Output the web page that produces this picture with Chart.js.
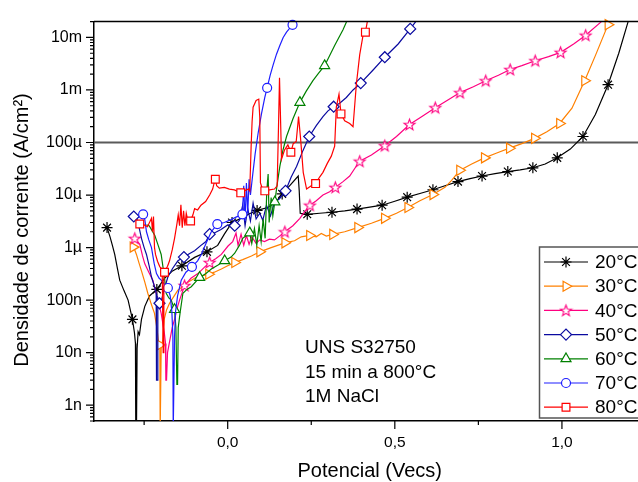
<!DOCTYPE html>
<html>
<head>
<meta charset="utf-8">
<title>Polarização potenciodinâmica</title>
<script src="https://cdn.jsdelivr.net/npm/chart.js@4.4.1/dist/chart.umd.min.js"></script>
<style>
  html, body { margin: 0; padding: 0; background: #fff; overflow: hidden; }
  #wrap { width: 638px; height: 482px; overflow: hidden; }
  canvas { display: block; }
</style>
</head>
<body>
<div id="wrap"><canvas id="polar" width="660" height="482"></canvas></div>
<script>
// Potential (V vs ECS), current density (A/cm²)
const seriesLabels = ['20°C', '30°C', '40°C', '50°C', '60°C', '70°C', '80°C'];

const curve20 = [[-0.361, 2.4e-6], [-0.352, 1.6e-6], [-0.345, 1.1e-6], [-0.338, 7.4e-7], [-0.330, 4e-7], [-0.323, 2.4e-7], [-0.310, 1.5e-7], [-0.298, 1.0e-7], [-0.285, 4.3e-8], [-0.279, 2.4e-8], [-0.276, 1.5e-8], [-0.275, 3e-10], [-0.273, 3e-10], [-0.271, 1.2e-8], [-0.268, 2.5e-8], [-0.264, 2.2e-8], [-0.258, 4.3e-8], [-0.248, 7.6e-8], [-0.234, 1.2e-7], [-0.212, 1.6e-7], [-0.189, 2.6e-7], [-0.165, 3.6e-7], [-0.137, 4.5e-7], [-0.099, 6.5e-7], [-0.062, 8.3e-7], [-0.030, 1.1e-6], [-0.010, 1.8e-6], [0.013, 3.0e-6], [0.040, 3.6e-6], [0.065, 4.4e-6], [0.088, 5.1e-6], [0.120, 5.8e-6], [0.145, 7.5e-6], [0.163, 1.05e-5], [0.185, 1.5e-5], [0.211, 2.3e-5], [0.214, 1.2e-5], [0.217, 4.5e-6], [0.238, 4.3e-6], [0.275, 4.5e-6], [0.312, 4.7e-6], [0.350, 5e-6], [0.387, 5.4e-6], [0.425, 5.9e-6], [0.462, 6.4e-6], [0.500, 7.6e-6], [0.537, 9.1e-6], [0.575, 1.07e-5], [0.614, 1.26e-5], [0.650, 1.5e-5], [0.689, 1.8e-5], [0.725, 2.05e-5], [0.761, 2.3e-5], [0.800, 2.55e-5], [0.838, 2.8e-5], [0.875, 3e-5], [0.913, 3.3e-5], [0.950, 3.9e-5], [0.986, 5.1e-5], [1.025, 7.5e-5], [1.063, 1.3e-4], [1.100, 3.4e-4], [1.138, 1.26e-3], [1.170, 5e-3], [1.198, 2e-2], [1.210, 3.5e-2]];
const marks20 = [[-0.361, 2.4e-6], [-0.285, 4.3e-8], [-0.212, 1.6e-7], [-0.137, 4.5e-7], [-0.062, 8.3e-7], [0.013, 3.0e-6], [0.088, 5.1e-6], [0.163, 1.05e-5], [0.238, 4.3e-6], [0.312, 4.7e-6], [0.387, 5.4e-6], [0.462, 6.4e-6], [0.537, 9.1e-6], [0.614, 1.26e-5], [0.689, 1.8e-5], [0.761, 2.3e-5], [0.838, 2.8e-5], [0.913, 3.3e-5], [0.986, 5.1e-5], [1.063, 1.3e-4], [1.138, 1.26e-3]];

const curve30 = [[-0.283, 1.02e-6], [-0.278, 9e-7], [-0.273, 7.4e-7], [-0.265, 5e-7], [-0.258, 3.6e-7], [-0.248, 2.2e-7], [-0.239, 1.35e-7], [-0.229, 8.5e-8], [-0.219, 5.6e-8], [-0.212, 3e-8], [-0.207, 1.6e-8], [-0.203, 1.4e-8], [-0.202, 3e-10], [-0.200, 3e-10], [-0.199, 1.2e-8], [-0.194, 1.8e-8], [-0.190, 4.3e-8], [-0.183, 6.5e-8], [-0.174, 8.7e-8], [-0.160, 1.2e-7], [-0.149, 1.55e-7], [-0.130, 1.9e-7], [-0.119, 2.2e-7], [-0.095, 2.7e-7], [-0.057, 3.1e-7], [-0.040, 3.4e-7], [-0.019, 3.9e-7], [0.000, 4.5e-7], [0.021, 5.2e-7], [0.045, 5.9e-7], [0.071, 6.9e-7], [0.096, 8.3e-7], [0.130, 1.0e-6], [0.171, 1.23e-6], [0.200, 1.35e-6], [0.220, 1.6e-6], [0.245, 1.7e-6], [0.265, 1.6e-6], [0.280, 1.85e-6], [0.295, 1.65e-6], [0.314, 1.78e-6], [0.350, 2.0e-6], [0.389, 2.4e-6], [0.430, 2.9e-6], [0.469, 3.6e-6], [0.505, 4.5e-6], [0.539, 5.8e-6], [0.575, 7.8e-6], [0.614, 1.02e-5], [0.650, 1.4e-5], [0.670, 1.9e-5], [0.694, 2.95e-5], [0.730, 3.9e-5], [0.768, 5.1e-5], [0.805, 6.3e-5], [0.843, 7.8e-5], [0.880, 9.5e-5], [0.918, 1.2e-4], [0.955, 1.6e-4], [0.993, 2.3e-4], [1.030, 4.5e-4], [1.068, 1.5e-3], [1.100, 4.5e-3], [1.138, 1.75e-2], [1.150, 3e-2]];
const marks30 = [[-0.283, 1.02e-6], [-0.203, 1.4e-8], [-0.057, 3.1e-7], [0.021, 5.2e-7], [0.096, 8.3e-7], [0.171, 1.23e-6], [0.245, 1.7e-6], [0.314, 1.78e-6], [0.389, 2.4e-6], [0.469, 3.6e-6], [0.539, 5.8e-6], [0.614, 1.02e-5], [0.694, 2.95e-5], [0.768, 5.1e-5], [0.843, 7.8e-5], [0.918, 1.2e-4], [0.993, 2.3e-4], [1.068, 1.5e-3], [1.138, 1.75e-2]];

const curve40 = [[-0.278, 1.5e-6], [-0.270, 1.3e-6], [-0.263, 1.15e-6], [-0.255, 7e-7], [-0.248, 4.9e-7], [-0.236, 3.4e-7], [-0.224, 2.4e-7], [-0.212, 1.2e-7], [-0.199, 5.6e-8], [-0.190, 2.5e-8], [-0.186, 1.5e-8], [-0.185, 3e-9], [-0.183, 3e-9], [-0.180, 1e-8], [-0.174, 1.6e-8], [-0.166, 3e-8], [-0.159, 4.3e-8], [-0.150, 7.5e-8], [-0.144, 1e-7], [-0.129, 1.9e-7], [-0.110, 2.6e-7], [-0.089, 3.2e-7], [-0.070, 4.2e-7], [-0.054, 5.2e-7], [-0.035, 6.2e-7], [-0.019, 7.4e-7], [0.001, 1.07e-6], [0.015, 1.3e-6], [0.025, 1.9e-6], [0.031, 1.1e-6], [0.040, 1.8e-6], [0.048, 1.1e-6], [0.056, 1.7e-6], [0.064, 1.15e-6], [0.072, 1.6e-6], [0.085, 1.2e-6], [0.096, 1.4e-6], [0.110, 1.3e-6], [0.125, 1.45e-6], [0.140, 1.4e-6], [0.155, 1.65e-6], [0.171, 2.0e-6], [0.195, 2.6e-6], [0.216, 3.6e-6], [0.230, 4.8e-6], [0.246, 6.4e-6], [0.265, 7.8e-6], [0.285, 1.0e-5], [0.305, 1.15e-5], [0.322, 1.4e-5], [0.345, 1.8e-5], [0.365, 2.3e-5], [0.380, 3.2e-5], [0.395, 4.4e-5], [0.430, 5.8e-5], [0.470, 8.7e-5], [0.505, 1.3e-4], [0.544, 2.2e-4], [0.580, 3.1e-4], [0.621, 4.6e-4], [0.660, 6.5e-4], [0.695, 8.9e-4], [0.735, 1.15e-3], [0.772, 1.5e-3], [0.810, 1.9e-3], [0.845, 2.45e-3], [0.880, 2.9e-3], [0.920, 3.6e-3], [0.960, 4.3e-3], [0.996, 5.2e-3], [1.035, 7.5e-3], [1.071, 1.1e-2], [1.118, 2e-2], [1.130, 2.4e-2]];
const marks40 = [[-0.278, 1.5e-6], [-0.129, 1.9e-7], [-0.054, 5.2e-7], [0.171, 2.0e-6], [0.246, 6.4e-6], [0.322, 1.4e-5], [0.395, 4.4e-5], [0.470, 8.7e-5], [0.544, 2.2e-4], [0.621, 4.6e-4], [0.695, 8.9e-4], [0.772, 1.5e-3], [0.845, 2.45e-3], [0.920, 3.6e-3], [0.996, 5.2e-3], [1.071, 1.1e-2]];

const curve50 = [[-0.281, 3.9e-6], [-0.272, 3.6e-6], [-0.265, 2.4e-6], [-0.258, 1.5e-6], [-0.250, 1.0e-6], [-0.243, 7.4e-7], [-0.235, 4.5e-7], [-0.228, 2.75e-7], [-0.220, 1.9e-7], [-0.214, 1.35e-7], [-0.213, 3e-9], [-0.211, 3e-9], [-0.209, 1.1e-7], [-0.204, 8.7e-8], [-0.198, 1.0e-7], [-0.190, 1.6e-7], [-0.179, 2.75e-7], [-0.165, 4e-7], [-0.149, 5.6e-7], [-0.131, 6.6e-7], [-0.115, 7.6e-7], [-0.099, 8.7e-7], [-0.080, 1.1e-6], [-0.065, 1.3e-6], [-0.054, 1.8e-6], [-0.040, 1.9e-6], [-0.020, 2.2e-6], [0.000, 2.7e-6], [0.021, 2.6e-6], [0.035, 3.3e-6], [0.045, 6.5e-6], [0.052, 2.6e-6], [0.060, 5.5e-6], [0.068, 3.2e-6], [0.076, 7e-6], [0.085, 3.5e-6], [0.096, 4.5e-6], [0.105, 3.3e-6], [0.116, 6.4e-6], [0.128, 4.0e-6], [0.140, 7.2e-6], [0.155, 8.5e-6], [0.173, 1.2e-5], [0.190, 2.2e-5], [0.206, 3.5e-5], [0.225, 7e-5], [0.244, 1.3e-4], [0.265, 2.1e-4], [0.285, 3.1e-4], [0.300, 4e-4], [0.317, 4.8e-4], [0.335, 5.6e-4], [0.355, 7.2e-4], [0.375, 1.0e-3], [0.398, 1.35e-3], [0.435, 2.4e-3], [0.470, 4.2e-3], [0.510, 7.5e-3], [0.546, 1.45e-2], [0.570, 2.3e-2]];
const marks50 = [[-0.281, 3.9e-6], [-0.204, 8.7e-8], [-0.131, 6.6e-7], [-0.054, 1.8e-6], [0.021, 2.6e-6], [0.173, 1.2e-5], [0.244, 1.3e-4], [0.317, 4.8e-4], [0.398, 1.35e-3], [0.470, 4.2e-3], [0.546, 1.45e-2]];

const curve60 = [[-0.243, 2.7e-6], [-0.235, 2.6e-6], [-0.228, 2.2e-6], [-0.218, 1.7e-6], [-0.209, 1.15e-6], [-0.199, 7.4e-7], [-0.193, 4e-7], [-0.190, 3e-7], [-0.184, 1.35e-7], [-0.176, 1.1e-7], [-0.169, 1.0e-7], [-0.159, 6.6e-8], [-0.155, 3e-8], [-0.152, 2.5e-9], [-0.150, 2.5e-9], [-0.148, 3e-8], [-0.142, 6e-8], [-0.134, 1.35e-7], [-0.122, 1.6e-7], [-0.109, 1.8e-7], [-0.084, 2.7e-7], [-0.065, 3.2e-7], [-0.049, 3.9e-7], [-0.030, 4.6e-7], [-0.009, 5.6e-7], [0.010, 6.6e-7], [0.021, 7.8e-7], [0.035, 1.1e-6], [0.045, 1.5e-6], [0.066, 1.9e-6], [0.072, 1.2e-6], [0.080, 2.3e-6], [0.087, 1.1e-6], [0.094, 2.6e-6], [0.100, 1.3e-6], [0.106, 3.5e-6], [0.112, 1.5e-6], [0.117, 1.2e-5], [0.121, 2.5e-5], [0.124, 3e-6], [0.130, 9e-6], [0.135, 4e-6], [0.141, 7.4e-6], [0.148, 1.6e-5], [0.156, 3.5e-5], [0.165, 7e-5], [0.176, 1.3e-4], [0.195, 2.8e-4], [0.216, 5.8e-4], [0.235, 9.5e-4], [0.255, 1.5e-3], [0.272, 2.1e-3], [0.290, 2.9e-3], [0.320, 7e-3], [0.345, 1.4e-2], [0.360, 2.3e-2]];
const marks60 = [[-0.159, 6.6e-8], [-0.084, 2.7e-7], [-0.009, 5.6e-7], [0.066, 1.9e-6], [0.141, 7.4e-6], [0.216, 5.8e-4], [0.290, 2.9e-3]];

const curve70 = [[-0.253, 4.3e-6], [-0.248, 3.4e-6], [-0.243, 2.0e-6], [-0.236, 1.4e-6], [-0.228, 1.0e-6], [-0.220, 5e-7], [-0.213, 3.2e-7], [-0.205, 2.6e-7], [-0.199, 2.4e-7], [-0.189, 2.0e-7], [-0.179, 1.7e-7], [-0.172, 1.2e-7], [-0.167, 6e-8], [-0.164, 2e-8], [-0.163, 3e-10], [-0.161, 3e-10], [-0.159, 2e-8], [-0.156, 6e-8], [-0.150, 1.2e-7], [-0.139, 2.4e-7], [-0.125, 3.4e-7], [-0.107, 4.3e-7], [-0.090, 5.6e-7], [-0.079, 7.4e-7], [-0.065, 1.2e-6], [-0.049, 2.0e-6], [-0.031, 2.8e-6], [-0.010, 3.0e-6], [0.010, 3.4e-6], [0.025, 3.8e-6], [0.044, 4.3e-6], [0.048, 1.5e-5], [0.052, 3.2e-6], [0.056, 1.7e-5], [0.060, 4.5e-6], [0.064, 2e-5], [0.068, 1.0e-5], [0.075, 2.5e-5], [0.082, 6e-5], [0.091, 1.5e-4], [0.101, 3.5e-4], [0.111, 7.2e-4], [0.118, 1.1e-3], [0.127, 1.9e-3], [0.136, 3e-3], [0.146, 4.8e-3], [0.156, 7e-3], [0.166, 1e-2], [0.176, 1.26e-2], [0.194, 1.74e-2], [0.210, 2.6e-2]];
const marks70 = [[-0.253, 4.3e-6], [-0.179, 1.7e-7], [-0.107, 4.3e-7], [-0.031, 2.8e-6], [0.044, 4.3e-6], [0.118, 1.1e-3], [0.194, 1.74e-2]];

const curve80 = [[-0.263, 2.8e-6], [-0.250, 2.7e-6], [-0.240, 2.5e-6], [-0.228, 3.6e-6], [-0.225, 2.0e-6], [-0.222, 3.9e-6], [-0.219, 1.0e-6], [-0.216, 7.4e-7], [-0.210, 5.5e-7], [-0.203, 4.3e-7], [-0.196, 3.9e-7], [-0.193, 1e-8], [-0.191, 3e-7], [-0.189, 3.4e-7], [-0.180, 4.4e-7], [-0.174, 5.6e-7], [-0.166, 9e-7], [-0.159, 1.5e-6], [-0.152, 2.8e-6], [-0.148, 4.2e-6], [-0.144, 2.6e-6], [-0.140, 6.5e-6], [-0.136, 2.4e-6], [-0.132, 5e-6], [-0.128, 2.6e-6], [-0.124, 4.5e-6], [-0.118, 3e-6], [-0.111, 3.2e-6], [-0.104, 4.2e-6], [-0.099, 5.5e-6], [-0.090, 5.2e-6], [-0.080, 6.4e-6], [-0.066, 7.5e-6], [-0.054, 1.0e-5], [-0.045, 1.3e-5], [-0.039, 1.86e-5], [-0.037, 2.0e-5], [-0.033, 1.5e-5], [-0.025, 1.35e-5], [-0.010, 1.4e-5], [0.005, 1.3e-5], [0.020, 1.25e-5], [0.039, 1.1e-5], [0.050, 1.2e-5], [0.062, 1.3e-5], [0.066, 1.2e-5], [0.070, 8e-5], [0.073, 2.5e-4], [0.076, 4.7e-4], [0.085, 6.3e-4], [0.093, 6.7e-4], [0.096, 3e-4], [0.098, 1.7e-5], [0.104, 1.3e-5], [0.111, 1.2e-5], [0.125, 1.25e-5], [0.140, 1.3e-5], [0.148, 1.5e-5], [0.152, 2e-4], [0.155, 1.7e-3], [0.158, 3e-4], [0.161, 4.8e-5], [0.170, 7.2e-5], [0.180, 9e-5], [0.189, 6.5e-5], [0.196, 9.5e-5], [0.205, 1.05e-4], [0.212, 3.1e-4], [0.218, 1.2e-4], [0.226, 2.7e-5], [0.236, 1.3e-5], [0.250, 1.5e-5], [0.263, 1.65e-5], [0.275, 2.2e-5], [0.285, 2.7e-5], [0.298, 4e-5], [0.310, 5.5e-5], [0.320, 8.5e-5], [0.325, 4.7e-4], [0.333, 8.3e-4], [0.339, 3.5e-4], [0.350, 2.6e-4], [0.365, 2.3e-4], [0.375, 2e-4], [0.385, 1.3e-3], [0.395, 4.7e-3], [0.405, 1.1e-2], [0.412, 1.26e-2], [0.420, 2.4e-2]];
const marks80 = [[-0.263, 2.8e-6], [-0.189, 3.4e-7], [-0.111, 3.2e-6], [-0.037, 2.0e-5], [0.039, 1.1e-5], [0.111, 1.2e-5], [0.189, 6.5e-5], [0.263, 1.65e-5], [0.339, 3.5e-4], [0.412, 1.26e-2]];

const xTickValues = [0, 0.5, 1.0];
const xTickLabels = ['0,0', '0,5', '1,0'];
const yTickValues = [1e-9, 1e-8, 1e-7, 1e-6, 1e-5, 1e-4, 1e-3, 1e-2];
const yTickLabels = ['1n', '10n', '100n', '1µ', '10µ', '100µ', '1m', '10m'];
const refLevel = 1e-4;
const noteLines = ['UNS S32750', '15 min a 800°C', '1M NaCl'];

const X_MIN = -0.4, X_MAX = 1.25;
const Y_MIN = 5e-10, Y_MAX = 2e-2;
const FONT = 'Arial, "Liberation Sans", sans-serif';

// hollow five-point star used as a point style
function starImage(color) {
    const c = document.createElement('canvas');
    c.width = c.height = 15;
    const g = c.getContext('2d');
    g.beginPath();
    for (let i = 0; i < 10; i++) {
        const r = i % 2 ? 2.4 : 5.8;
        const a = -Math.PI / 2 + i * Math.PI / 5;
        const px = 7.5 + r * Math.cos(a);
        const py = 8 + r * Math.sin(a);
        if (i) g.lineTo(px, py); else g.moveTo(px, py);
    }
    g.closePath();
    g.fillStyle = '#fff';
    g.fill();
    g.strokeStyle = color;
    g.lineWidth = 1.1;
    g.stroke();
    return c;
}

const curves = [curve20, curve30, curve40, curve50, curve60, curve70, curve80];
const marks = [marks20, marks30, marks40, marks50, marks60, marks70, marks80];
const styles = [
    { color: '#000000', point: 'star', radius: 5.5, rotation: 0 },
    { color: '#FF8000', point: 'triangle', radius: 5.8, rotation: 90 },
    { color: '#FF0080', point: starImage('#FF0080'), radius: 5, rotation: 0 },
    { color: '#0A0AA0', point: 'rectRot', radius: 5.5, rotation: 0 },
    { color: '#008000', point: 'triangle', radius: 5.8, rotation: 0 },
    { color: '#1E1EFF', point: 'circle', radius: 4.5, rotation: 0 },
    { color: '#FF0000', point: 'rect', radius: 5.5, rotation: 0 }
];

const toXY = arr => arr.map(p => ({ x: p[0], y: p[1] }));

const datasets = [];
curves.forEach((c, k) => {
    const s = styles[k];
    // symbols sit above their own curve, later temperatures above earlier ones
    datasets.push({
        label: seriesLabels[k],
        data: toXY(marks[k]),
        showLine: false,
        pointStyle: s.point,
        pointRadius: s.radius,
        pointRotation: s.rotation,
        pointBorderColor: s.color,
        pointBackgroundColor: '#ffffff',
        pointBorderWidth: 1.2,
        order: (6 - k) * 2,
        clip: 8
    });
    datasets.push({
        label: seriesLabels[k],
        data: toXY(c),
        showLine: true,
        borderColor: s.color,
        borderWidth: 1.2,
        pointRadius: 0,
        order: (6 - k) * 2 + 1,
        clip: 0
    });
});
datasets.push({
    label: 'ref',
    data: [{ x: X_MIN, y: refLevel }, { x: X_MAX, y: refLevel }],
    showLine: true,
    borderColor: '#5a5a5a',
    borderWidth: 1.8,
    pointRadius: 0,
    order: 99,
    clip: 0
});

// ticks, frame, titles, note and legend
const decor = {
    id: 'decor',
    afterDraw(chart) {
        const { ctx, chartArea: a, scales: { x, y } } = chart;
        ctx.save();
        ctx.strokeStyle = '#000';
        ctx.lineWidth = 1.5;
        ctx.beginPath();
        ctx.moveTo(a.left, a.top);
        ctx.lineTo(a.right, a.top);
        ctx.lineTo(a.right, a.bottom);
        ctx.stroke();

        ctx.lineWidth = 1.2;
        ctx.beginPath();
        for (let e = -10; e <= -2; e++) {
            for (let k = 1; k <= 9; k++) {
                const v = k * Math.pow(10, e);
                if (v < Y_MIN * 0.999 || v > Y_MAX * 1.001) continue;
                const py = y.getPixelForValue(v);
                ctx.moveTo(a.left, py);
                ctx.lineTo(a.left - (k === 1 ? 8 : 4), py);
            }
        }
        for (let k = -1; k <= 5; k++) {
            const px = x.getPixelForValue(k * 0.25);
            ctx.moveTo(px, a.bottom);
            ctx.lineTo(px, a.bottom + (k % 2 === 0 ? 8 : 4));
        }
        ctx.stroke();

        // axis titles
        ctx.fillStyle = '#000';
        ctx.font = '20px ' + FONT;
        ctx.textAlign = 'center';
        ctx.textBaseline = 'alphabetic';
        ctx.fillText('Potencial (Vecs)', (a.left + a.right) / 2, 477);
        ctx.save();
        ctx.translate(28, 230);
        ctx.rotate(-Math.PI / 2);
        ctx.fillText('Densidade de corrente (A/cm²)', 0, 0);
        ctx.restore();

        // sample description
        ctx.font = '19px ' + FONT;
        ctx.textAlign = 'left';
        ctx.textBaseline = 'middle';
        noteLines.forEach((t, i) => ctx.fillText(t, 305, 348 + i * 24.5));

        // legend
        const lx = 539.5, ly = 247;
        ctx.fillStyle = '#fff';
        ctx.fillRect(lx, ly, 120, 171);
        ctx.strokeStyle = '#555';
        ctx.lineWidth = 1.5;
        ctx.strokeRect(lx, ly, 120, 171);
        ctx.font = '19px ' + FONT;
        seriesLabels.forEach((label, k) => {
            const s = styles[k];
            const cy = 262 + k * 24.2;
            ctx.strokeStyle = s.color;
            ctx.lineWidth = 1.2;
            ctx.beginPath();
            ctx.moveTo(544, cy);
            ctx.lineTo(588, cy);
            ctx.stroke();
            ctx.fillStyle = '#fff';
            Chart.helpers.drawPoint(ctx, {
                pointStyle: s.point, rotation: s.rotation, radius: s.radius, borderWidth: 1.2
            }, 566, cy);
            ctx.fillStyle = '#000';
            ctx.fillText(label, 595, cy + 1);
        });
        ctx.restore();
    }
};

new Chart(document.getElementById('polar'), {
    type: 'scatter',
    data: { datasets: datasets },
    options: {
        responsive: false,
        animation: false,
        events: [],
        layout: { padding: { top: 13, right: 14.5, left: 0, bottom: 0 } },
        plugins: { legend: { display: false }, tooltip: { enabled: false } },
        scales: {
            x: {
                type: 'linear',
                min: X_MIN,
                max: X_MAX,
                afterBuildTicks: s => { s.ticks = xTickValues.map(v => ({ value: v })); },
                afterFit: s => { s.height = 61; },
                ticks: {
                    autoSkip: false,
                    maxRotation: 0,
                    padding: 12,
                    color: '#000',
                    font: { family: FONT, size: 15.5 },
                    callback: (v, i) => xTickLabels[i]
                },
                grid: { display: false, drawTicks: false },
                border: { display: true, color: '#000', width: 1.5 }
            },
            y: {
                type: 'logarithmic',
                min: Y_MIN,
                max: Y_MAX,
                afterBuildTicks: s => { s.ticks = yTickValues.map(v => ({ value: v, major: true })); },
                afterFit: s => { s.width = 94; },
                ticks: {
                    autoSkip: false,
                    padding: 12,
                    color: '#000',
                    font: { family: FONT, size: 16 },
                    callback: (v, i) => yTickLabels[i]
                },
                grid: { display: false, drawTicks: false },
                border: { display: true, color: '#000', width: 1.5 }
            }
        }
    },
    plugins: [decor]
});
</script>
</body>
</html>
